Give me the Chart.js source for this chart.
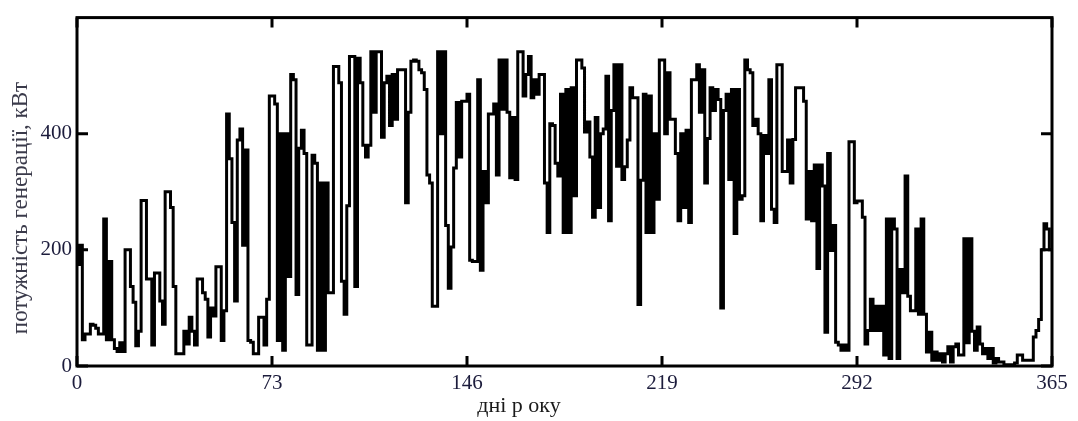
<!DOCTYPE html>
<html>
<head>
<meta charset="utf-8">
<script src="https://cdn.jsdelivr.net/npm/chart.js@4.4.1/dist/chart.umd.min.js"></script>
<style>
    body { margin: 0; background: #fff; }
    #wrap { width: 1078px; height: 421px; }
</style>
</head>
<body>
<div id="wrap"><canvas id="chart"></canvas></div>
<script>
// daily generation power, kW (day 0 .. 365)
const power = [
    210, 175, 208, 45, 55, 55, 72, 70, 65, 55,
    55, 253, 45, 180, 45, 30, 25, 40, 25, 200,
    200, 137, 110, 35, 60, 285, 285, 150, 150, 36,
    160, 160, 112, 72, 300, 300, 273, 137, 21, 21,
    21, 60, 38, 84, 60, 36, 150, 150, 126, 115,
    50, 100, 86, 171, 171, 44, 95, 434, 357, 247,
    112, 389, 408, 208, 372, 44, 41, 21, 21, 84,
    84, 36, 115, 465, 465, 451, 44, 400, 27, 400,
    154, 502, 493, 123, 375, 406, 366, 36, 36, 363,
    349, 27, 315, 27, 315, 126, 126, 516, 516, 488,
    146, 89, 276, 533, 533, 137, 530, 488, 380, 360,
    380, 541, 437, 541, 541, 394, 488, 499, 414, 502,
    425, 510, 510, 510, 281, 437, 525, 527, 525, 510,
    505, 476, 329, 315, 103, 103, 541, 400, 541, 242,
    134, 205, 341, 454, 360, 456, 456, 468, 182, 180,
    180, 493, 165, 335, 281, 434, 434, 451, 329, 527,
    442, 527, 437, 324, 428, 321, 541, 541, 465, 502,
    533, 462, 493, 468, 502, 502, 315, 230, 417, 414,
    349, 327, 468, 230, 476, 230, 479, 293, 527, 527,
    513, 403, 420, 360, 256, 428, 273, 400, 408, 499,
    250, 440, 519, 344, 519, 321, 343, 389, 479, 462,
    462, 106, 320, 468, 230, 465, 230, 400, 287, 527,
    527, 400, 505, 425, 425, 366, 250, 400, 273, 406,
    247, 493, 493, 519, 437, 510, 315, 392, 479, 440,
    476, 459, 100, 440, 468, 321, 476, 228, 476, 287,
    293, 527, 510, 505, 414, 425, 400, 250, 397, 366,
    493, 270, 247, 519, 519, 335, 335, 389, 315, 390,
    479, 479, 479, 456, 253, 335, 250, 346, 168, 346,
    310, 58, 366, 199, 242, 41, 36, 27, 36, 27,
    386, 386, 281, 284, 284, 256, 38, 61, 115, 61,
    103, 61, 103, 19, 253, 13, 253, 236, 13, 166,
    126, 327, 120, 95, 95, 236, 89, 253, 89, 24,
    58, 10, 24, 10, 21, 7, 21, 33, 7, 33,
    38, 19, 19, 219, 40, 219, 60, 27, 67, 38,
    21, 30, 13, 30, 5, 13, 7, 7, 2, 2,
    2, 2, 5, 19, 19, 10, 10, 10, 10, 50,
    61, 80, 200, 245, 236, 200
];

const xTicks = [0, 73, 146, 219, 292, 365];
const yTicks = [0, 200, 400];
const xTitle = 'дні р оку';
const yTitle = 'потужність генерації, кВт';

const tickFont = { family: '"Liberation Serif", "Times New Roman", serif', size: 21 };
const tickColor = '#1c1c3c';

// frame, inward tick marks and axis titles, Mathcad style
const framePlugin = {
    id: 'frame',
    afterDatasetsDraw(chart) {
        const { ctx, chartArea: a, scales } = chart;
        ctx.save();
        ctx.strokeStyle = '#000';
        ctx.lineWidth = 3;
        ctx.strokeRect(a.left, a.top, a.right - a.left, a.bottom - a.top);
        ctx.beginPath();
        xTicks.forEach(v => {
            const px = scales.x.getPixelForValue(v);
            ctx.moveTo(px, a.bottom); ctx.lineTo(px, a.bottom - 10);
            ctx.moveTo(px, a.top); ctx.lineTo(px, a.top + 10);
        });
        yTicks.forEach(v => {
            const py = scales.y.getPixelForValue(v);
            ctx.moveTo(a.left, py); ctx.lineTo(a.left + 11, py);
            ctx.moveTo(a.right, py); ctx.lineTo(a.right - 11, py);
        });
        ctx.stroke();

        ctx.fillStyle = '#1a1a1a';
        ctx.font = '22px "Liberation Serif", serif';
        ctx.textAlign = 'center';
        ctx.textBaseline = 'alphabetic';
        ctx.fillText(xTitle, 519, 412);

        ctx.fillStyle = '#3a3a4a';
        ctx.font = '23px "Liberation Serif", serif';
        ctx.translate(27, 208);
        ctx.rotate(-Math.PI / 2);
        ctx.fillText(yTitle, 0, 0);
        ctx.restore();
    }
};

const points = power.map((v, i) => ({ x: i, y: v }));

new Chart(document.getElementById('chart'), {
    type: 'line',
    data: {
        datasets: [{
            data: points,
            borderColor: '#000',
            borderWidth: 3,
            pointRadius: 0,
            stepped: 'after',
            fill: false
        }]
    },
    options: {
        responsive: true,
        maintainAspectRatio: false,
        animation: false,
        layout: { padding: { top: 13, right: 26, left: 0, bottom: 0 } },
        plugins: { legend: { display: false }, tooltip: { enabled: false } },
        scales: {
            x: {
                type: 'linear',
                min: 0,
                max: 365,
                grid: { display: false, drawTicks: false },
                border: { display: false },
                afterBuildTicks: s => { s.ticks = xTicks.map(v => ({ value: v })); },
                afterFit: s => { s.height = 55; },
                ticks: { font: tickFont, color: tickColor, padding: 5, maxRotation: 0, autoSkip: false }
            },
            y: {
                min: 0,
                max: 600,
                grid: { display: false, drawTicks: false },
                border: { display: false },
                afterBuildTicks: s => { s.ticks = yTicks.map(v => ({ value: v })); },
                afterFit: s => { s.width = 77; },
                ticks: { font: tickFont, color: tickColor, padding: 5 }
            }
        }
    },
    plugins: [framePlugin]
});
</script>
</body>
</html>
